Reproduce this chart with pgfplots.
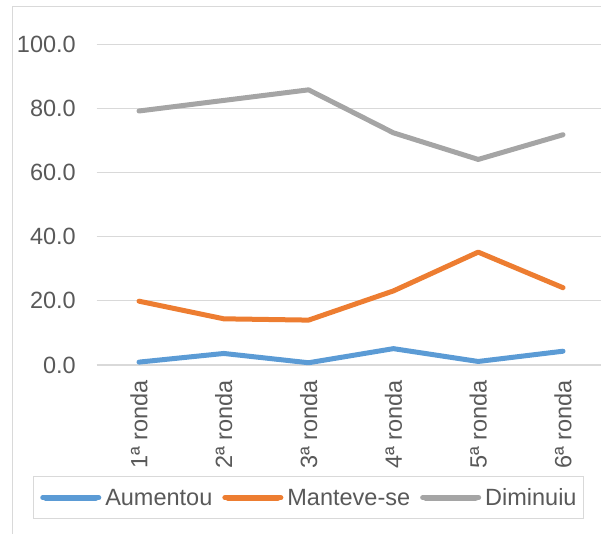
\documentclass[border=0pt]{standalone}
\usepackage{fontspec}
\setmainfont{Liberation Sans}
\usepackage{pgfplots}
\pgfplotsset{compat=1.18}
\definecolor{serBlue}{HTML}{5B9BD5}
\definecolor{serOrange}{HTML}{ED7D31}
\definecolor{serGray}{HTML}{A5A5A5}
\definecolor{gridGray}{HTML}{D9D9D9}
\definecolor{labelGray}{HTML}{595959}

\begin{document}
\begin{tikzpicture}[x=1pt,y=1pt]
\useasboundingbox (0,0) rectangle (601,533);
\draw[gridGray, line width=1.2pt] (12.5,-10) -- (12.5,526.5) -- (620,526.5);
\begin{axis}[
    at={(96.6pt,168pt)}, anchor=south west,
    width=508.8pt, height=320.7pt, scale only axis,
    xmin=0.5, xmax=6.5, ymin=0, ymax=100,
    clip=false,
    xtick={1,2,3,4,5,6},
    xticklabels={1ª ronda,2ª ronda,3ª ronda,4ª ronda,5ª ronda,6ª ronda},
    ytick={0,20,40,60,80,100},
    axis line style={draw=none},
    major tick length=0pt,
    ymajorgrids=true,
    grid style={draw=gridGray, line width=1.2pt},
    tick label style={font=\fontsize{23.5}{28}\selectfont, text=labelGray},
    yticklabel style={anchor=east, inner sep=0pt, xshift=-20.6pt,
        /pgf/number format/fixed, /pgf/number format/fixed zerofill,
        /pgf/number format/precision=1, /pgf/number format/assume math mode=true},
    xticklabel style={yshift=-15pt, rotate=90, anchor=east, inner sep=0pt},
    legend columns=-1,
    legend image code/.code={
        \path (0pt,0pt) -- (56pt,0pt);
        \draw[#1, line width=6pt, line cap=round] (3pt,0pt) -- (53pt,0pt);},
    legend style={at={(0.4163,-0.4138)}, anchor=center, draw=gridGray, line width=1pt,
        font=\fontsize{23.5}{28}\selectfont, text=labelGray,
        inner xsep=7pt, inner ysep=12pt,
        nodes={inner sep=0pt},
        /tikz/every odd column/.append style={column sep=4pt},
        /tikz/every even column/.append style={column sep=10pt}},
    every axis plot/.append style={line width=5pt, line join=round, line cap=round},
]
\addplot[serBlue] coordinates {(1,0.9) (2,3.6) (3,0.7) (4,5.1) (5,1.1) (6,4.3)};
\addlegendentry{Aumentou}
\addplot[serOrange] coordinates {(1,19.9) (2,14.4) (3,14.0) (4,23.1) (5,35.2) (6,24.1)};
\addlegendentry{Manteve-se}
\addplot[serGray] coordinates {(1,79.2) (2,82.5) (3,85.8) (4,72.4) (5,64.1) (6,71.8)};
\addlegendentry{Diminuiu}
\end{axis}
\end{tikzpicture}
\end{document}
